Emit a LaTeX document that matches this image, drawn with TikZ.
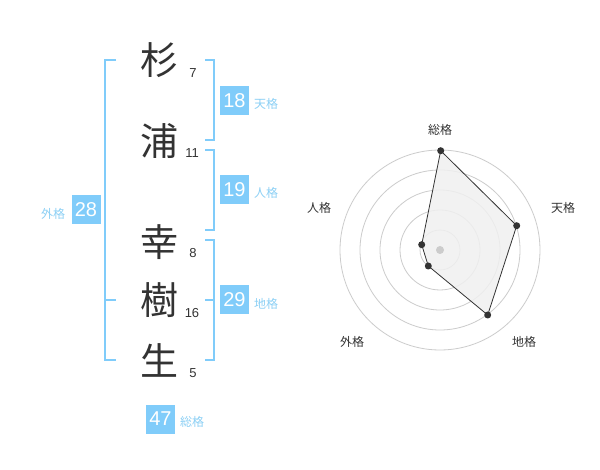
\documentclass[tikz,border=0pt]{standalone}
\usepackage{fontspec}
\setmainfont{Liberation Sans}
\newfontfamily\cjk{Noto Sans CJK JP}
\definecolor{bluebox}{RGB}{128,204,250}
\definecolor{bluetxt}{RGB}{140,208,245}
\definecolor{darktxt}{RGB}{51,51,51}
\definecolor{ringgray}{RGB}{204,204,204}
\definecolor{polyfill}{RGB}{240,240,240}
\begin{document}
\begin{tikzpicture}[x=1pt,y=-1pt,
  kanji/.style={inner sep=0pt,font=\cjk\fontsize{38}{38}\selectfont,text=darktxt},
  strokes/.style={inner sep=0pt,font=\fontsize{13}{13}\selectfont,text=darktxt},
  scorebox/.style={fill=bluebox,minimum width=29pt,minimum height=29pt,inner sep=0pt,text=white,font=\fontsize{20}{20}\selectfont},
  scorelabel/.style={inner sep=0pt,font=\cjk\fontsize{12}{12}\selectfont,text=bluetxt},
  bracket/.style={draw=bluebox,line width=2pt},
  ring/.style={draw=ringgray,line width=0.8pt},
  axislabel/.style={inner sep=0pt,font=\cjk\fontsize{12}{12}\selectfont,text=darktxt},
  dot/.style={circle,fill=darktxt,inner sep=0pt,minimum size=7pt}]
\useasboundingbox (0,0) rectangle (600,470);
\fill[white] (0,0) rectangle (600,470);
% kanji
\node[kanji] (k1) at (159,60) {杉};
\node[kanji] (k2) at (159,141) {浦};
\node[kanji] (k3) at (159,242) {幸};
\node[kanji] (k4) at (159,300) {樹};
\node[kanji] (k5) at (159,360) {生};
\node[strokes] (s1) at (193,73) {7};
\node[strokes] (s2) at (192,153) {11};
\node[strokes] (s3) at (193,253) {8};
\node[strokes] (s4) at (192,313) {16};
\node[strokes] (s5) at (193,373) {5};
% brackets
\draw[bracket] (116,60) -- (105,60) -- (105,360) -- (116,360);
\draw[bracket] (105,300) -- (116,300);
\draw[bracket] (205,60) -- (214,60) -- (214,140) -- (205,140);
\draw[bracket] (205,150) -- (214,150) -- (214,230) -- (205,230);
\draw[bracket] (205,240) -- (214,240) -- (214,360) -- (205,360);
\draw[bracket] (205,300) -- (214,300);
% score boxes
\node[scorebox] (b1) at (234.5,100.5) {18};
\node[scorelabel] (l1) at (266,104) {天格};
\node[scorebox] (b2) at (234.5,190) {19};
\node[scorelabel] (l2) at (266,193) {人格};
\node[scorebox] (b3) at (86,210) {28};
\node[scorelabel] (l3) at (53,214) {外格};
\node[scorebox] (b4) at (234.5,300) {29};
\node[scorelabel] (l4) at (266,304) {地格};
\node[scorebox] (b5) at (160.5,419) {47};
\node[scorelabel] (l5) at (192,422) {総格};
% radar
\coordinate (c) at (440,250);
\foreach \r in {20,40,60,80,100} \draw[ring] (c) circle (\r);
\coordinate (p1) at (440.7,150.7);
\coordinate (p2) at (516.7,225.7);
\coordinate (p3) at (487.7,315);
\coordinate (p4) at (428.3,266);
\coordinate (p5) at (421.7,244.7);
\fill[polyfill,opacity=0.85] (p1) -- (p2) -- (p3) -- (p4) -- (p5) -- cycle;
\fill[ringgray] (c) circle (4);
\draw[darktxt,line width=0.8pt] (p1) -- (p2) -- (p3) -- (p4) -- (p5) -- cycle;
\foreach \p in {p1,p2,p3,p4,p5} \node[dot] at (\p) {};
\node[axislabel] (a1) at (440,130) {総格};
\node[axislabel] (a2) at (563,208) {天格};
\node[axislabel] (a3) at (319,208) {人格};
\node[axislabel] (a4) at (352,342) {外格};
\node[axislabel] (a5) at (524,342) {地格};
\end{tikzpicture}
\end{document}
